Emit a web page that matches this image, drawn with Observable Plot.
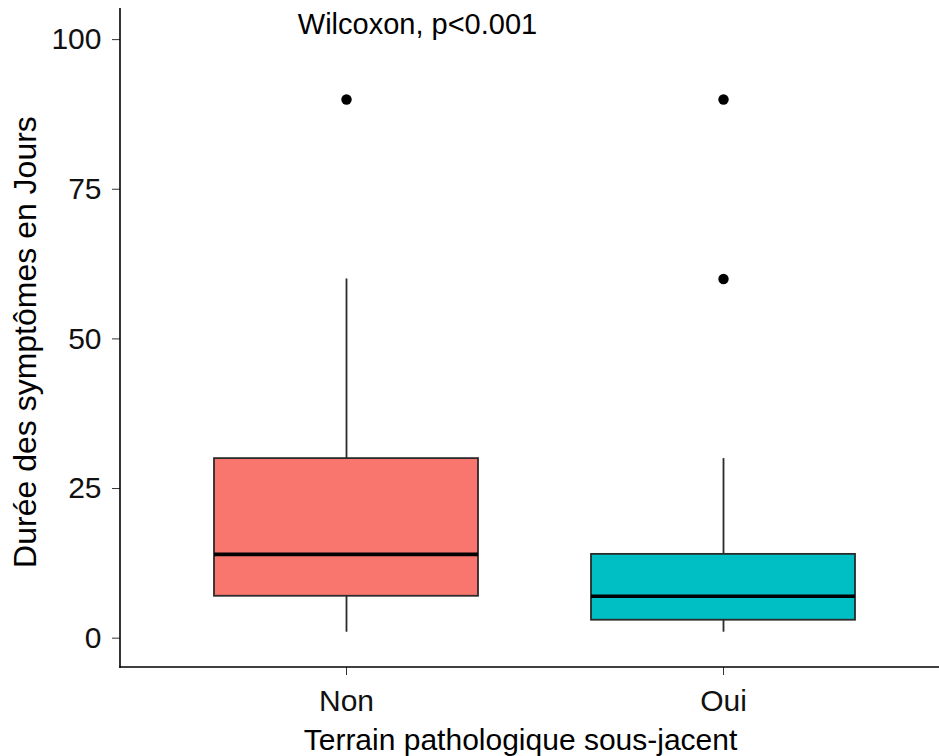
<!DOCTYPE html>
<html>
<head>
<meta charset="utf-8">
<script src="https://cdn.jsdelivr.net/npm/d3@7"></script>
<script src="https://cdn.jsdelivr.net/npm/@observablehq/plot@0.6"></script>
<style>
  html, body { margin: 0; padding: 0; background: #ffffff; }
</style>
</head>
<body>
<div id="chart"></div>
<script>
// ---- data ----
const categories = ["Non", "Oui"];
const fills = ["#F8766D", "#00BFC4"];
const whiskerLow = [1, 1];
const q1 = [7, 3];
const medians = [14, 7];
const q3 = [30, 14];
const whiskerHigh = [60, 30];
const outlierGroups = ["Non", "Oui", "Oui"];
const outlierValues = [90, 90, 60];
const yTicks = [0, 25, 50, 75, 100];
const yDomain = [-4.9, 105.2];
const xTitle = "Terrain pathologique sous-jacent";
const yTitle = "Durée des symptômes en Jours";
const testLabel = "Wilcoxon, p<0.001";

const boxes = categories.map((c, i) => ({
  cat: c, fill: fills[i], lo: whiskerLow[i], q1: q1[i], med: medians[i], q3: q3[i], hi: whiskerHigh[i]
}));
const outliers = outlierGroups.map((c, i) => ({cat: c, value: outlierValues[i]}));

const FONT = "'Liberation Sans', Arial, sans-serif";

function axisLines(index, scales, values, dimensions) {
  const {width, height, marginLeft, marginTop, marginBottom} = dimensions;
  const g = d3.create("svg:g").attr("stroke", "#000").attr("stroke-width", 1.6).attr("fill", "none");
  g.append("line").attr("x1", marginLeft).attr("x2", marginLeft)
    .attr("y1", marginTop).attr("y2", height - marginBottom + 0.8);
  g.append("line").attr("x1", marginLeft - 0.8).attr("x2", width)
    .attr("y1", height - marginBottom).attr("y2", height - marginBottom);
  return g.node();
}

const plot = Plot.plot({
  width: 939,
  height: 756,
  marginLeft: 120,
  marginRight: 0,
  marginTop: 8,
  marginBottom: 89,
  style: {fontFamily: FONT, background: "#ffffff", color: "#000"},
  x: {type: "band", domain: categories, range: [119.3, 949.4], paddingInner: 0.3, paddingOuter: 0.25, align: 0.5, axis: null},
  y: {domain: yDomain, axis: null},
  marks: [
    Plot.ruleX(boxes, {x: "cat", y1: "lo", y2: "hi", stroke: "#2b2b2b", strokeWidth: 1.8}),
    Plot.barY(boxes, {x: "cat", y1: "q1", y2: "q3", fill: "fill", stroke: "#2b2b2b", strokeWidth: 1.8}),
    Plot.tickY(boxes, {x: "cat", y: "med", stroke: "#000000", strokeWidth: 3.6}),
    Plot.dot(outliers, {x: "cat", y: "value", r: 5.2, fill: "#000000", stroke: null}),
    Plot.axisY({ticks: yTicks, tickSize: 8, tickPadding: 11, fontSize: 30, stroke: "#333333", fill: "#111111", label: null}),
    Plot.axisX({tickSize: 8, tickPadding: 14, fontSize: 30, stroke: "#333333", fill: "#111111", label: null}),
    axisLines,
    Plot.text([xTitle], {frameAnchor: "bottom", textAnchor: "middle", lineAnchor: "top", dy: 61, dx: -9.5, fontSize: 30, fill: "#000"}),
    Plot.text([yTitle], {frameAnchor: "left", textAnchor: "middle", rotate: -90, lineAnchor: "top", dx: -107, dy: 4, fontSize: 32, fill: "#000"}),
    Plot.text([testLabel], {x: () => categories[0], frameAnchor: "top", lineAnchor: "top", dx: 71, dy: 5, fontSize: 29, fill: "#000"})
  ]
});
document.getElementById("chart").appendChild(plot);
</script>
</body>
</html>
